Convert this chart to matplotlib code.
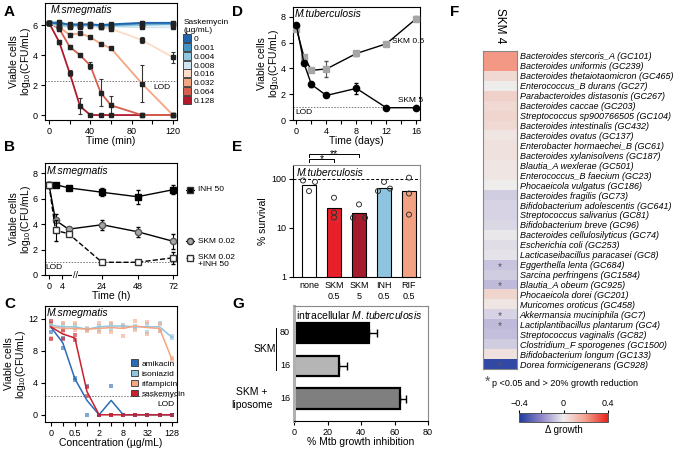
import numpy as np
import matplotlib
matplotlib.use('Agg')
import matplotlib.pyplot as plt
import matplotlib.transforms as mtransforms
from matplotlib.colors import LinearSegmentedColormap, Normalize
from matplotlib.cm import ScalarMappable
from matplotlib.patches import Patch
from matplotlib.lines import Line2D

## global style
plt.rcParams['font.family'] = ['Liberation Sans', 'DejaVu Sans']
plt.rcParams['font.size'] = 7
plt.rcParams['mathtext.fontset'] = 'custom'
plt.rcParams['mathtext.rm'] = 'Liberation Sans'
plt.rcParams['mathtext.it'] = 'Liberation Sans:italic'
plt.rcParams['mathtext.default'] = 'regular'
plt.rcParams['axes.linewidth'] = 0.8
plt.rcParams['xtick.major.width'] = 0.8
plt.rcParams['ytick.major.width'] = 0.8
plt.rcParams['xtick.major.size'] = 3
plt.rcParams['ytick.major.size'] = 3
plt.rcParams['xtick.labelsize'] = 6.5
plt.rcParams['ytick.labelsize'] = 6.5
plt.rcParams['xtick.major.pad'] = 2
plt.rcParams['ytick.major.pad'] = 2

####################
## DATA           ##
####################

# A - M.smegmatis time-kill, saskemycin concentrations
a_time = [0, 10, 20, 30, 40, 50, 60, 90, 120]
a_conc = ['0', '0.001', '0.004', '0.008', '0.016', '0.032', '0.064', '0.128']
a_logcfu = [
    [6.15, 6.10, 6.05, 6.05, 6.05, 6.00, 6.05, 6.15, 6.15],
    [6.15, 6.20, 6.00, 6.00, 6.05, 5.95, 6.00, 6.10, 6.10],
    [6.15, 5.95, 5.95, 5.95, 6.00, 5.95, 5.95, 6.00, 6.05],
    [6.15, 5.90, 5.95, 5.90, 5.95, 5.85, 5.90, 5.85, 5.85],
    [6.15, 5.90, 5.90, 5.95, 5.95, 5.85, 5.75, 5.00, 3.85],
    [6.15, 5.85, 5.35, 5.45, 5.20, 4.75, 4.45, 2.10, 0.00],
    [6.15, 5.75, 4.55, 4.00, 3.30, 1.50, 0.65, 0.00, 0.00],
    [6.15, 4.85, 2.80, 0.60, 0.00, 0.00, 0.00, 0.00, 0.00],
]
a_err = [
    [0.05, 0.10, 0.05, 0.05, 0.05, 0.05, 0.05, 0.10, 0.10],
    [0.05, 0.15, 0.05, 0.05, 0.05, 0.05, 0.05, 0.10, 0.05],
    [0.05, 0.05, 0.05, 0.05, 0.05, 0.05, 0.05, 0.05, 0.05],
    [0.05, 0.05, 0.05, 0.05, 0.05, 0.05, 0.05, 0.05, 0.05],
    [0.05, 0.10, 0.05, 0.05, 0.05, 0.10, 0.05, 0.20, 0.35],
    [0.05, 0.10, 0.08, 0.05, 0.08, 0.08, 0.05, 1.25, 0.00],
    [0.05, 0.12, 0.12, 0.05, 0.25, 0.90, 0.65, 0.00, 0.00],
    [0.05, 0.08, 0.20, 0.55, 0.00, 0.00, 0.00, 0.00, 0.00],
]
a_lod = 2.3

# B - M.smegmatis, INH / SKM / combination
b_time = [0, 2, 6, 24, 48, 72]
b_inh = [7.05, 7.10, 6.85, 6.50, 6.15, 6.70]
b_inh_err = [0.10, 0.10, 0.10, 0.30, 0.55, 0.35]
b_skm = [7.10, 4.30, 3.60, 3.95, 3.40, 2.65]
b_skm_err = [0.15, 0.50, 0.15, 0.40, 0.40, 0.60]
b_combo = [7.10, 3.50, 3.25, 1.00, 1.00, 1.35]
b_combo_err = [0.20, 0.85, 0.10, 0.05, 0.05, 0.45]
b_lod = 1.0

# C - M.smegmatis dose response after 2-fold dilutions
c_conc = ['0', '0.25', '0.5', '1', '2', '4', '8', '16', '32', '64', '128']
c_drugs = ['amikacin', 'isoniazid', 'rifampicin', 'saskemycin']
c_mean = [
    [11.0, 9.0, 4.5, 1.8, 0.0, 1.8, 0.0, 0.0, 0.0, 0.0, 0.0],
    [11.2, 11.0, 11.0, 10.7, 11.0, 11.1, 11.1, 11.0, 11.0, 11.0, 9.7],
    [11.0, 10.8, 10.8, 10.7, 10.8, 10.9, 10.8, 11.1, 10.9, 10.8, 7.0],
    [11.0, 10.1, 9.6, 2.9, 0.0, 0.0, 0.0, 0.0, 0.0, 0.0, 0.0],
]
c_rep1 = [
    [11.3, 9.6, 4.6, 3.6, 0.0, 3.6, 0.0, 0.0, 0.0, 0.0, 0.0],
    [11.3, 11.3, 11.2, 10.6, 11.1, 11.3, 11.2, 11.1, 11.4, 11.5, 9.8],
    [11.5, 11.5, 11.5, 10.7, 11.5, 11.5, 11.1, 11.7, 11.6, 11.3, 7.1],
    [11.7, 10.6, 10.0, 3.5, 0.0, 0.0, 0.0, 0.0, 0.0, 0.0, 0.0],
]
c_rep2 = [
    [10.3, 8.4, 4.4, 0.0, 0.0, 0.0, 0.0, 0.0, 0.0, 0.0, 0.0],
    [11.0, 10.7, 10.8, 10.8, 10.6, 10.7, 11.0, 10.9, 10.4, 10.5, 9.6],
    [9.6, 10.3, 10.6, 10.5, 10.3, 10.3, 9.9, 10.6, 10.1, 10.5, 6.9],
    [9.5, 9.5, 9.3, 2.3, 0.0, 0.0, 0.0, 0.0, 0.0, 0.0, 0.0],
]
c_lod = 2.3

# D - M.tuberculosis time-kill
d_time = [0, 1, 2, 4, 8, 12, 16]
d_skm05 = [7.05, 4.90, 3.85, 3.95, 5.15, 5.90, 7.85]
d_skm05_err = [0.15, 0.15, 0.10, 0.65, 0.20, 0.10, 0.20]
d_skm5 = [7.35, 4.40, 2.75, 1.90, 2.45, 0.95, 0.95]
d_skm5_err = [0.10, 0.15, 0.20, 0.05, 0.40, 0.05, 0.05]
d_lod = 1.0

# E - % survival M.tuberculosis
e_labels = ['none', 'SKM\n0.5', 'SKM\n5', 'INH\n0.5', 'RIF\n0.5']
e_mean = [74, 25, 20, 66, 55]
e_reps = [[92, 56, 86], [41, 20.5, 16.2], [16, 30, 16], [56, 86, 63], [105, 50, 18.6]]

# F - gut commensals growth change with SKM 4
f_species = [
    'Bacteroides stercoris_A (GC101)', 'Bacteroides uniformis (GC239)',
    'Bacteroides thetaiotaomicron (GC465)', 'Enterococcus_B durans (GC27)',
    'Parabacteroides distasonis (GC267)', 'Bacteroides caccae (GC203)',
    'Streptococcus sp900766505 (GC104)', 'Bacteroides intestinalis (GC432)',
    'Bacteroides ovatus (GC137)', 'Enterobacter hormaechei_B (GC61)',
    'Bacteroides xylanisolvens (GC187)', 'Blautia_A wexlerae (GC501)',
    'Enterococcus_B faecium (GC23)', 'Phocaeicola vulgatus (GC186)',
    'Bacteroides fragilis (GC73)', 'Bifidobacterium adolescentis (GC641)',
    'Streptococcus salivarius (GC81)', 'Bifidobacterium breve (GC96)',
    'Bacteroides cellulosilyticus (GC74)', 'Escherichia coli (GC253)',
    'Lacticaseibacillus paracasei (GC8)', 'Eggerthella lenta (GC684)',
    'Sarcina perfringens (GC1584)', 'Blautia_A obeum (GC925)',
    'Phocaeicola dorei (GC201)', 'Muricomes oroticus (GC458)',
    'Akkermansia muciniphila (GC7)', 'Lactiplantibacillus plantarum (GC4)',
    'Streptococcus vaginalis (GC82)', 'Clostridium_F sporogenes (GC1500)',
    'Bifidobacterium longum (GC133)', 'Dorea formicigenerans (GC928)',
]
f_delta = [0.21, 0.21, 0.05, 0.0, 0.07, 0.05, 0.06, 0.05, 0.02, 0.03, 0.03, 0.02,
           0.02, 0.0, -0.06, -0.05, -0.05, -0.04, -0.01, -0.03, -0.02, -0.08,
           -0.06, -0.10, 0.06, 0.02, -0.05, -0.10, -0.09, -0.06, 0.03, -0.36]
f_sig = [0, 0, 0, 0, 0, 0, 0, 0, 0, 0, 0, 0, 0, 0, 0, 0, 0, 0, 0, 0, 0, 1,
         0, 1, 0, 0, 1, 1, 0, 0, 0, 1]

# G - intracellular M.tuberculosis growth inhibition
g_dose = ['80', '16', '16']
g_inhib = [44.5, 27, 63.5]
g_err = [5.3, 4.7, 3.4]

####################
## FIGURE         ##
####################

W, H = 680, 451
fig = plt.figure(figsize=(W / 100, H / 100), dpi=100)


def box(l, t, r, b):
    # pixel rectangle -> figure fraction
    return [l / W, 1 - b / H, (r - l) / W, (b - t) / H]


def letter(x, y, s):
    fig.text(x / W, 1 - y / H, s, fontsize=11, fontweight='bold', va='top', ha='left')


def viable_label(ax):
    ax.set_ylabel('Viable cells\nlog$_{10}$(CFU/mL)', fontsize=7.5, labelpad=0,
                  linespacing=1.0)


## panel A
axA = fig.add_axes(box(45, 3, 177, 120))
a_colors = ['#2166ac', '#4393c3', '#92c5de', '#d1e5f0', '#fddbc7', '#f4a582', '#d6604d', '#b2182b']
for i in range(len(a_conc) - 1, -1, -1):
    axA.errorbar(a_time, a_logcfu[i], yerr=a_err[i], color=a_colors[i], lw=1.3,
                 ecolor='#333333', elinewidth=0.8, capsize=1.5, capthick=0.8,
                 marker='s', ms=2.2, mfc='#222222', mec='#222222', zorder=3 + (i < 4))
axA.axhline(a_lod, color='#777777', lw=0.7, ls=(0, (1.5, 1.5)), zorder=1)
axA.text(118, a_lod - 0.25, 'LOD', ha='right', va='top', fontsize=6)
axA.text(2, 7.35, 'M.smegmatis', style='italic', fontsize=7.5, va='top')
axA.set_xlim(-3.9, 124)
axA.set_ylim(-0.33, 7.47)
axA.set_xticks([0, 20, 40, 60, 80, 100, 120])
axA.set_xticklabels(['0', '', '40', '', '80', '', '120'])
axA.set_yticks([0, 2, 4, 6])
axA.set_xlabel('Time (min)', fontsize=7.5, labelpad=0)
viable_label(axA)
a_handles = [Line2D([], [], ls='none', marker='s', ms=6, mfc=c, mec='#333333', mew=0.6)
             for c in a_colors]
legA = fig.legend(a_handles, a_conc, loc='upper left', bbox_to_anchor=(179 / W, 1 - 15 / H),
                  frameon=False, fontsize=6, title='Saskemycin\n(\u00b5g/mL)', title_fontsize=6,
                  handlelength=0.8, handletextpad=0.4, labelspacing=0.12, borderpad=0,
                  alignment='left')

## panel B - broken time axis
bx = [-10, 0, 7, 24, 72, 100]
bp = [-32.5, 0, 22.75, 53, 124, 165]
axB = fig.add_axes(box(45, 163, 177, 275))
axB.set_xscale('function', functions=(lambda t: np.interp(t, bx, bp), lambda p: np.interp(p, bp, bx)))
axB.errorbar(b_time, b_inh, yerr=b_inh_err, color='k', lw=1.0, marker='s', ms=4,
             capsize=1.5, elinewidth=0.8, zorder=4)
axB.errorbar(b_time, b_skm, yerr=b_skm_err, color='k', lw=1.0, marker='o', ms=4.5,
             mfc='#a6a6a6', mec='#555555', capsize=1.5, elinewidth=0.8, zorder=3)
axB.errorbar(b_time, b_combo, yerr=b_combo_err, color='k', lw=1.0, ls='--', marker='s', ms=4,
             mfc='white', mec='#333333', capsize=1.5, elinewidth=0.8, zorder=5)
axB.axhline(b_lod, color='#777777', lw=0.7, ls=(0, (1.5, 1.5)), zorder=1)
axB.text(-1.0, b_lod - 0.15, 'LOD', ha='left', va='top', fontsize=6)
axB.text(-0.6, 8.6, 'M.smegmatis', style='italic', fontsize=7.5, va='top')
axB.set_xlim(-1.23, 74.7)
axB.set_ylim(0, 8.8)
axB.set_xticks([0, 4, 24, 48, 72])
axB.set_xticklabels(['0', '4', '24', '48', '72'])
axB.set_yticks([0, 2, 4, 6, 8])
axB.set_xlabel('Time (h)', fontsize=7.5, labelpad=0)
viable_label(axB)
axB.text(9, 0, '//', transform=mtransforms.blended_transform_factory(axB.transData, axB.transAxes),
         ha='center', va='center', fontsize=6.5, bbox=dict(fc='white', ec='none', pad=0.3))
tB = mtransforms.blended_transform_factory(axB.transAxes, axB.transData)
b_keys = [(b_inh[-1], 's', 'k', '-', 'INH 50'),
          (b_skm[-1], 'o', '#a6a6a6', '-', 'SKM 0.02'),
          (b_combo[-1], 's', 'white', '--', 'SKM 0.02\n+INH 50')]
for yv, mk, fc, ls, lab in b_keys:
    axB.plot([1.065, 1.13], [yv, yv], transform=tB, color='k', lw=0.8, ls=ls, clip_on=False)
    axB.plot([1.098], [yv], transform=tB, marker=mk, ms=4.5, mfc=fc, mec='#333333',
             ls='none', clip_on=False)
    if '\n' in lab:
        axB.text(1.16, yv + 0.3, lab, transform=tB, va='top', fontsize=6, linespacing=1.1)
    else:
        axB.text(1.16, yv, lab, transform=tB, va='center', fontsize=6)

## panel C
axC = fig.add_axes(box(45, 306, 177, 422))
c_colors = ['#2b6cb6', '#92c5de', '#f4a582', '#c8202f']
c_x = np.arange(len(c_conc))
for i, d in enumerate(c_drugs):
    axC.scatter(c_x, c_rep1[i], marker='s', s=5, color=c_colors[i], alpha=0.6, lw=0, zorder=2)
    axC.scatter(c_x, c_rep2[i], marker='s', s=5, color=c_colors[i], alpha=0.6, lw=0, zorder=2)
for i in [0, 1, 2, 3]:
    axC.plot(c_x, c_mean[i], color=c_colors[i], lw=1.1, zorder=3)
axC.axhline(c_lod, color='#777777', lw=0.7, ls=(0, (1.5, 1.5)), zorder=1)
axC.text(10.2, c_lod - 0.6, 'LOD', ha='right', va='top', fontsize=6)
axC.text(-0.3, 13.4, 'M.smegmatis', style='italic', fontsize=7.5, va='top')
axC.set_xlim(-0.47, 10.44)
axC.set_ylim(-0.9, 13.6)
axC.set_xticks(c_x)
axC.set_xticklabels([c if k % 2 == 0 else '' for k, c in enumerate(c_conc)])
axC.set_yticks([0, 4, 8, 12])
axC.set_xlabel('Concentration (\u00b5g/mL)', fontsize=7.5, labelpad=0)
viable_label(axC)
c_handles = [Patch(fc=c, ec='#333333', lw=0.6) for c in c_colors]
axC.legend(c_handles, c_drugs, loc='upper left', bbox_to_anchor=(0.62, 0.575), frameon=False,
           fontsize=6, handlelength=0.8, handleheight=0.8, handletextpad=0.5,
           labelspacing=0.25, borderpad=0)

## panel D
axD = fig.add_axes(box(293, 7, 420, 120))
axD.errorbar(d_time, d_skm05, yerr=d_skm05_err, color='k', lw=1.0, marker='s', ms=4,
             mfc='#a6a6a6', mec='#a6a6a6', ecolor='#555555', capsize=1.5, elinewidth=0.8, zorder=3)
axD.errorbar(d_time, d_skm5, yerr=d_skm5_err, color='k', lw=1.0, marker='o', ms=4.5,
             mfc='k', mec='k', capsize=1.5, elinewidth=0.8, zorder=4)
axD.axhline(d_lod, color='#777777', lw=0.7, ls=(0, (1.5, 1.5)), zorder=1)
axD.text(-0.2, d_lod - 0.15, 'LOD', ha='left', va='top', fontsize=6)
axD.text(14.9, 6.05, 'SKM 0.5', ha='center', va='center', fontsize=6)
axD.text(15.3, 1.5, 'SKM 5', ha='center', va='center', fontsize=6)
axD.text(-0.2, 8.6, 'M.tuberculosis', style='italic', fontsize=7.5, va='top')
axD.set_xlim(-0.46, 16.5)
axD.set_ylim(0, 8.75)
axD.set_xticks(range(0, 17, 2))
axD.set_xticklabels([str(t) if t % 4 == 0 else '' for t in range(0, 17, 2)])
axD.set_yticks([0, 2, 4, 6, 8])
axD.set_xlabel('Time (days)', fontsize=7.5, labelpad=0)
viable_label(axD)

## panel E
axE = fig.add_axes(box(293, 165, 420, 277))
e_colors = ['white', '#e8202a', '#a51c2d', '#8fc4e0', '#f2a283']
e_x = np.arange(len(e_labels))
axE.bar(e_x, e_mean, width=0.56, color=e_colors, edgecolor='k', lw=0.8, zorder=2)
e_jit = [[-0.24, 0, 0.24], [0, 0, 0], [-0.24, 0, 0.24], [-0.24, 0, 0.24], [0, 0, 0]]
for k in range(len(e_labels)):
    axE.scatter(e_x[k] + np.array(e_jit[k]), e_reps[k], s=13, facecolor='none',
                edgecolor='#333333', lw=0.7, zorder=3)
axE.axhline(100, color='k', lw=0.7, ls=(0, (3, 2)), zorder=1)
axE.set_yscale('log')
axE.set_ylim(1, 190)
axE.set_xlim(-0.64, 4.44)
axE.set_yticks([1, 10, 100])
axE.set_yticklabels(['1', '10', '100'])
axE.yaxis.set_minor_locator(matplotlib.ticker.NullLocator())
axE.set_xticks(e_x)
axE.set_xticklabels(e_labels, fontsize=6.5, linespacing=1.3)
axE.tick_params(axis='x', length=0, pad=3)
axE.set_ylabel('% survival', fontsize=7.5, labelpad=2)
for s in ['top', 'right']:
    axE.spines[s].set_color('#888888')
axE.text(0.03, 0.97, 'M.tuberculosis', transform=axE.transAxes, style='italic',
         fontsize=7.5, va='top')
# significance brackets (star baseline placed just under each bracket line)
tE = mtransforms.blended_transform_factory(axE.transData, axE.transAxes)
for x1, yb, ys, star in [(1, 1.054, 1.028, '*'), (2, 1.098, 1.072, '**')]:
    axE.plot([0, 0, x1, x1], [yb - 0.03, yb, yb, yb - 0.03], transform=tE, color='k',
             lw=0.7, clip_on=False)
    axE.text(x1 / 2, ys, star, transform=tE, ha='center', va='baseline', fontsize=7.5)

## panel G
axG = fig.add_axes(box(294, 306, 428, 421))
g_colors = ['black', '#b5b5b5', '#7f7f7f']
g_y = np.arange(len(g_dose))
axG.barh(g_y, g_inhib, height=0.62, color=g_colors, edgecolor='k', lw=1.6, zorder=2)
axG.errorbar(g_inhib, g_y, xerr=[np.zeros(3), g_err], fmt='none', ecolor='k', elinewidth=1.0,
             capsize=3, capthick=1.0, zorder=3)
axG.set_xlim(0, 80)
axG.set_ylim(2.68, -0.82)
axG.set_xticks([0, 20, 40, 60, 80])
axG.set_yticks([])
axG.spines['left'].set_color('#b0b0b0')
axG.spines['left'].set_linewidth(2.2)
for s in ['top', 'right']:
    axG.spines[s].set_color('#888888')
axG.set_xlabel('% Mtb growth inhibition', fontsize=7.5, labelpad=0)
axG.text(0.015, 0.975, 'intracellular $\\mathit{M.tuberculosis}$', transform=axG.transAxes,
         fontsize=7.5, va='top')
tG = mtransforms.blended_transform_factory(axG.transAxes, axG.transData)
for k in range(len(g_dose)):
    axG.text(-0.03, g_y[k], g_dose[k], transform=tG, ha='right', va='center', fontsize=6.5)
axG.plot([-0.134, -0.134], [-0.15, 1.13], transform=tG, color='k', lw=0.7, clip_on=False)
axG.text(-0.216, 0.5, 'SKM', transform=tG, ha='center', va='center', fontsize=7.5)
axG.text(-0.313, 2.0, 'SKM +\nliposome', transform=tG, ha='center', va='center', fontsize=7.5,
         linespacing=1.3)

## panel F heatmap
f_cmap = LinearSegmentedColormap.from_list('dgrowth', ['#1c3a9e', '#8e86c8', '#efeded',
                                                       '#f4a08c', '#e8221c'])
f_norm = Normalize(-0.4, 0.4)
axF = fig.add_axes(box(483, 51, 517, 369))
axF.imshow(np.array(f_delta).reshape(-1, 1), cmap=f_cmap, norm=f_norm, aspect='auto',
           interpolation='nearest')
axF.set_xticks([])
axF.set_yticks(range(len(f_species)))
axF.set_yticklabels(f_species, fontsize=6.5, style='italic')
axF.yaxis.tick_right()
axF.tick_params(axis='y', length=0, pad=2)
for s in axF.spines.values():
    s.set_color('#888888')
for k in range(len(f_species)):
    if f_sig[k]:
        axF.text(0, k + 0.2, '*', ha='center', va='center', fontsize=7.5, color='#555555')
axF.text(0.5, 1.025, 'SKM 4', transform=axF.transAxes, rotation=-90, ha='center',
         va='bottom', fontsize=8.5)
fig.text(485 / W, 1 - 386 / H, '*', fontsize=10, color='#555555', va='baseline')
fig.text(492 / W, 1 - 386 / H, 'p <0.05 and > 20% growth reduction', fontsize=6.5,
         va='baseline')
cax = fig.add_axes(box(519, 413, 608, 422))
cb = fig.colorbar(ScalarMappable(norm=f_norm, cmap=f_cmap), cax=cax, orientation='horizontal')
cb.set_ticks([-0.4, 0, 0.4])
cb.set_ticklabels(['\u22120.4', '0', '0.4'])
cax.xaxis.set_ticks_position('top')
cax.xaxis.set_minor_locator(matplotlib.ticker.FixedLocator([-0.2, 0.2]))
cax.tick_params(which='both', length=2.5, labelsize=6.5, pad=1)
cax.xaxis.set_label_position('bottom')
cax.set_xlabel('\u0394 growth', fontsize=7, labelpad=2)
cb.outline.set_edgecolor('#555555')
cb.outline.set_linewidth(0.7)

## panel letters
letter(4, 5, 'A')
letter(4, 140, 'B')
letter(4, 297, 'C')
letter(232, 5, 'D')
letter(232, 140, 'E')
letter(450, 5, 'F')
letter(232, 297, 'G')

fig.savefig('out.png', dpi=100)
